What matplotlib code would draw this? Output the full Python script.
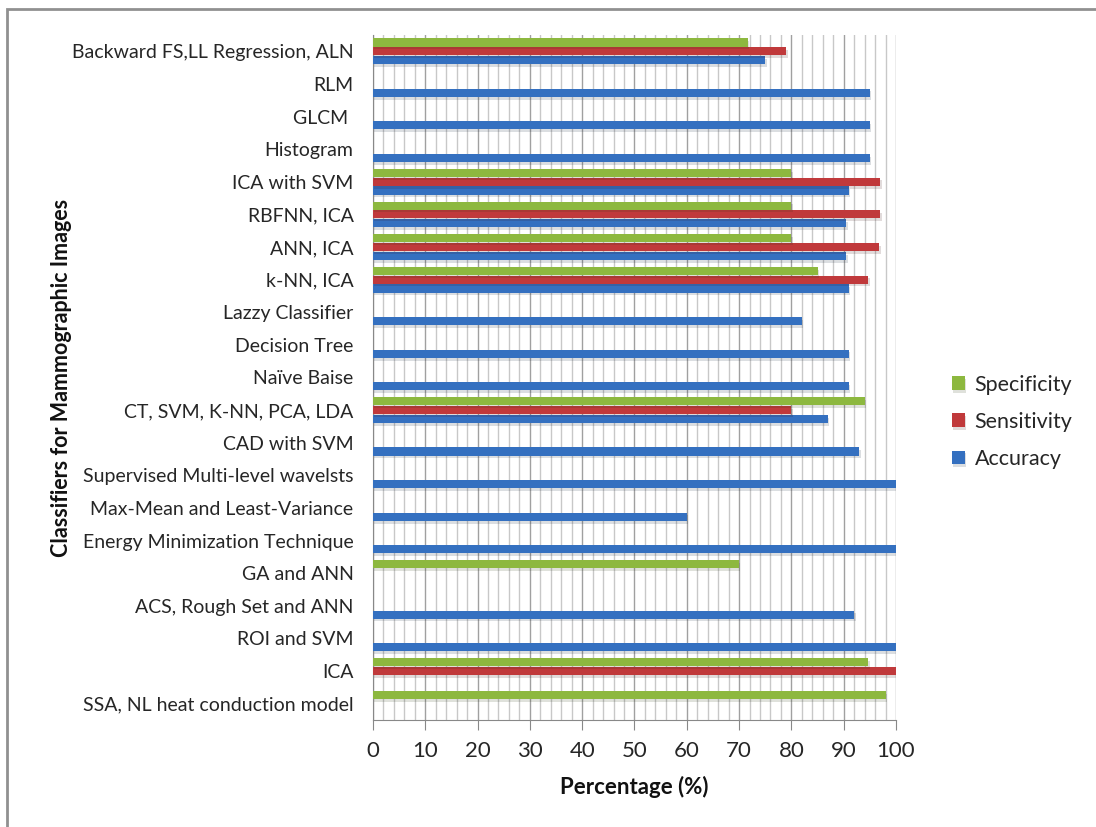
import numpy as np
import matplotlib.pyplot as plt
import matplotlib.patheffects as pe
from matplotlib.patches import Rectangle

plt.rcParams['font.family'] = ['Lato', 'DejaVu Sans']

# classifiers, listed top to bottom
classifiers = ['Backward FS,LL Regression, ALN', 'RLM', 'GLCM ', 'Histogram',
               'ICA with SVM', 'RBFNN, ICA', 'ANN, ICA', 'k-NN, ICA',
               'Lazzy Classifier', 'Decision Tree', 'Naïve Baise',
               'CT, SVM, K-NN, PCA, LDA', 'CAD with SVM',
               'Supervised Multi-level wavelsts', 'Max-Mean and Least-Variance',
               'Energy Minimization Technique', 'GA and ANN',
               'ACS, Rough Set and ANN', 'ROI and SVM', 'ICA',
               'SSA, NL heat conduction model']
accuracy = [75, 95, 95, 95, 91, 90.5, 90.5, 91, 82, 91, 91, 87, 93,
            100, 60, 100, 0, 92, 100, 0, 0]
sensitivity = [79, 0, 0, 0, 97, 97, 96.8, 94.7, 0, 0, 0, 80, 0,
               0, 0, 0, 0, 0, 0, 100, 0]
specificity = [71.7, 0, 0, 0, 80, 80, 80, 85, 0, 0, 0, 94, 0,
               0, 0, 0, 70, 0, 0, 94.7, 98]

blue = '#3470C0'
red = '#C0393B'
green = '#8DB83F'

n = len(classifiers)
y = np.arange(n)[::-1]
h = 0.25
off = 0.27

fig = plt.figure(figsize=(10.96, 8.27), dpi=100)
ax = fig.add_axes([0.3403, 0.1294, 0.8175 - 0.3403, 0.9577 - 0.1294])

shadow = [pe.SimplePatchShadow(offset=(1, -2), alpha=0.15), pe.Normal()]
b1 = ax.barh(y - off, accuracy, height=h, color=blue, label='Accuracy', zorder=3)
b2 = ax.barh(y, sensitivity, height=h, color=red, label='Sensitivity', zorder=3)
b3 = ax.barh(y + off, specificity, height=h, color=green, label='Specificity', zorder=3)
for bars in (b1, b2, b3):
    for p in bars:
        if p.get_width() > 0:
            p.set_path_effects(shadow)

ax.set_xlim(0, 100)
ax.set_ylim(-0.5, n - 0.5)
ax.set_xticks(np.arange(0, 101, 10))
ax.set_xticks(np.arange(0, 101, 2), minor=True)
ax.set_yticks(y)
ax.set_yticklabels(classifiers, fontsize=14, color='#262626')
ax.tick_params(axis='y', length=0, pad=14)
ax.tick_params(axis='x', which='major', length=7, color='#888888',
               labelsize=16, pad=8, labelcolor='#262626')
ax.tick_params(axis='x', which='minor', length=0)
ax.grid(axis='x', which='minor', color='#c8c8c8', lw=1, zorder=0)
ax.grid(axis='x', which='major', color='#a0a0a0', lw=1, zorder=0)
for s in ['top', 'right']:
    ax.spines[s].set_visible(False)
for s in ['left', 'bottom']:
    ax.spines[s].set_color('#888888')

ax.set_xlabel('Percentage (%)', fontsize=16, fontweight='bold', labelpad=11,
              color='#111111')
ax.set_ylabel('Classifiers for Mammographic Images', fontsize=15.5,
              fontweight='bold', color='#111111')
ax.yaxis.set_label_coords(-0.575, 0.5)

handles = [b3, b2, b1]
leg = fig.legend(handles, [hd.get_label() for hd in handles],
                 loc='center left', bbox_to_anchor=(0.851, 0.49),
                 frameon=False, fontsize=15.5, handlelength=0.6,
                 handleheight=0.6, handletextpad=0.45, labelspacing=0.8)
for t in leg.get_texts():
    t.set_color('#262626')

# outer chart border
fig.add_artist(Rectangle((0.006, -0.02), 1.1, 1.009, transform=fig.transFigure,
                         fill=False, edgecolor='#909090', lw=2))

fig.savefig('out.png', dpi=100)
